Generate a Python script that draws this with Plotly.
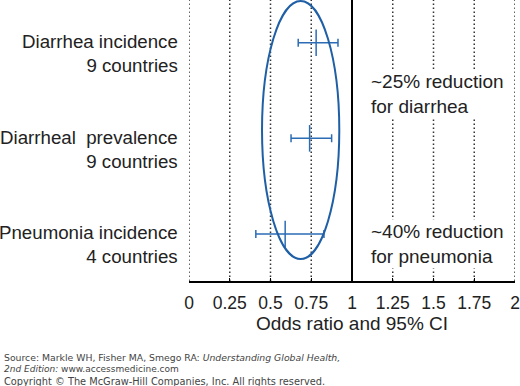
import plotly.graph_objects as go

categories = ["Diarrhea incidence<br>9 countries",
              "Diarrheal  prevalence<br>9 countries",
              "Pneumonia incidence<br>4 countries"]
cat_pos = [3, 2, 1]
odds = [0.78, 0.74, 0.59]
ci_low = [0.67, 0.626, 0.41]
ci_high = [0.914, 0.875, 0.828]
tick_vals = [0, 0.25, 0.5, 0.75, 1, 1.25, 1.5, 1.75, 2]
tick_text = ["0", "0.25", "0.5", "0.75", "1", "1.25", "1.5", "1.75", "2"]

blue = "#2b6cb5"
text_col = "#222222"
font_main = "Liberation Sans, Arial, sans-serif"

fig = go.Figure()
fig.add_trace(go.Scatter(
    x=odds, y=cat_pos, mode="markers",
    marker=dict(symbol="line-ns", size=19, line=dict(color=blue, width=1.5)),
    error_x=dict(type="data", symmetric=False,
                 array=[h - o for h, o in zip(ci_high, odds)],
                 arrayminus=[o - l for o, l in zip(odds, ci_low)],
                 color=blue, thickness=1.5, width=4),
    showlegend=False, hoverinfo="skip"))

shapes = []
for v in tick_vals:
    if v == 1:
        shapes.append(dict(type="line", xref="x", yref="paper", x0=v, x1=v, y0=0, y1=1,
                           line=dict(color="black", width=2), layer="below"))
    else:
        shapes.append(dict(type="line", xref="x", yref="paper", x0=v, x1=v, y0=0, y1=1,
                           line=dict(color="#333333", width=1.5, dash="1.5px,2.5px"),
                           layer="below"))
# highlight ellipse
shapes.append(dict(type="circle", xref="x", yref="y", x0=0.448, x1=0.922, y0=0.738, y1=3.436,
                   line=dict(color="#1f5fa6", width=2), layer="above"))

annotations = []
for c, p in zip(categories, cat_pos):
    annotations.append(dict(x=0, xref="paper", y=p, yref="y", text=c, showarrow=False,
                            xanchor="right", yanchor="middle", yshift=-11, xshift=-9,
                            align="right", font=dict(size=18.7, color=text_col, family=font_main)))
annotations.append(dict(x=1.105, xref="x", y=2.463, yref="y",
                        text="~25% reduction<br>for diarrhea", showarrow=False,
                        xanchor="left", yanchor="middle", align="left", bgcolor="white",
                        font=dict(size=19, color=text_col, family=font_main)))
annotations.append(dict(x=1.105, xref="x", y=0.896, yref="y",
                        text="~40% reduction<br>for pneumonia", showarrow=False,
                        xanchor="left", yanchor="middle", align="left", bgcolor="white",
                        font=dict(size=19, color=text_col, family=font_main)))

src_lines = [
    ("Source: Markle WH, Fisher MA, Smego RA: <i>Understanding Global Health,</i>", 357, 9.3),
    ("<i>2nd Edition:</i> www.accessmedicine.com", 369, 9.0),
    ("Copyright © The McGraw-Hill Companies, Inc. All rights reserved.", 381, 9.8),
]
for t, py, fs in src_lines:
    annotations.append(dict(x=(2 - 189) / 326, xref="paper", y=(281 - py) / 281, yref="paper",
                            text=t, showarrow=False, xanchor="left", yanchor="middle",
                            align="left",
                            font=dict(size=fs, color="#444444",
                                      family="DejaVu Sans, Verdana, sans-serif")))

fig.update_layout(
    width=520, height=386,
    margin=dict(l=189, r=5, t=0, b=105),
    paper_bgcolor="white", plot_bgcolor="white",
    shapes=shapes, annotations=annotations,
    xaxis=dict(range=[0, 2], tickvals=tick_vals, ticktext=tick_text,
               showgrid=False, zeroline=False, showline=True, linecolor="black", linewidth=1.5,
               ticks="inside", ticklen=3, tickcolor="black", tickwidth=1,
               ticklabelstandoff=5,
               tickfont=dict(size=17.5, color=text_col, family=font_main),
               title=dict(text="Odds ratio and 95% CI", standoff=0,
                          font=dict(size=19, color=text_col, family=font_main))),
    yaxis=dict(range=[0.508, 3.447], showgrid=False, zeroline=False, showticklabels=False,
               showline=False, ticks=""),
)

fig.write_html("out.html", config={"displayModeBar": False},
               post_script="document.body.style.margin='0';document.body.style.overflow='hidden';")
